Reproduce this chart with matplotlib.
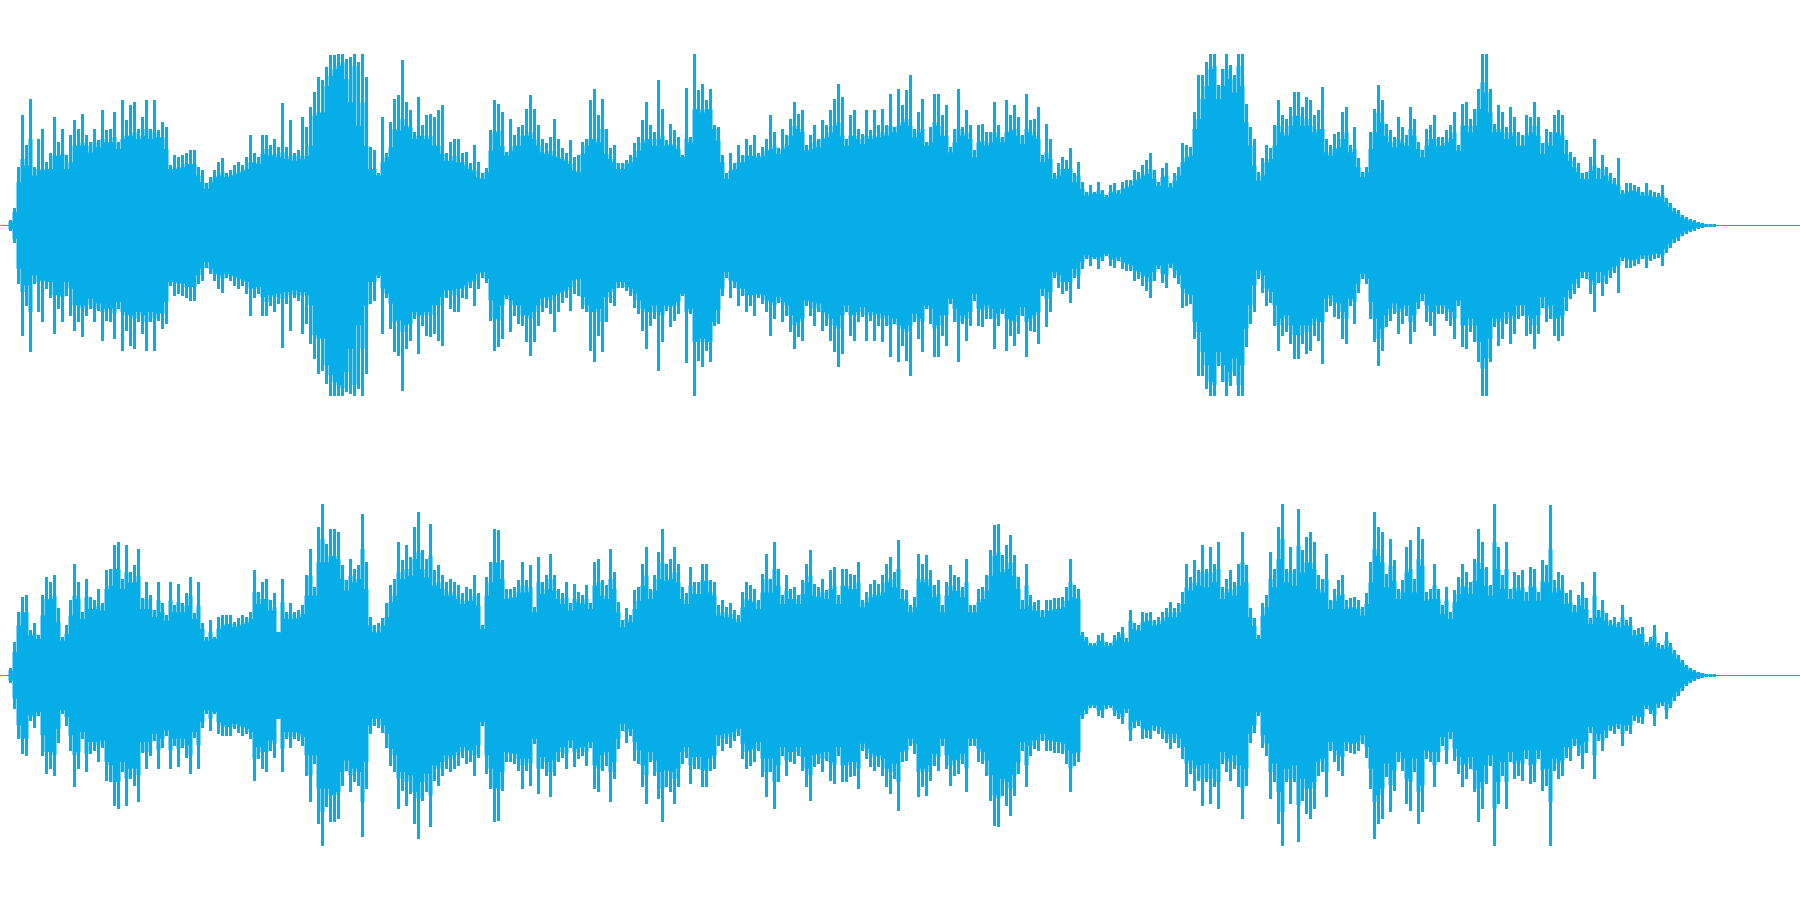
import matplotlib
matplotlib.use('Agg')
import matplotlib.pyplot as plt
import numpy as np

# Peak amplitude per 4 px column, full scale = 514
left_peaks = [
    0, 0, 16, 50, 175, 330, 240, 380, 175, 260, 290, 190, 215, 325, 250, 290, 210, 270, 315, 290,
    335, 270, 250, 290, 255, 345, 285, 290, 340, 250, 375, 315, 360, 370, 290, 325, 375, 290, 375, 285,
    310, 295, 180, 210, 205, 210, 215, 225, 225, 175, 165, 125, 145, 165, 190, 200, 155, 165, 180, 190,
    180, 205, 270, 215, 205, 270, 270, 240, 260, 235, 366, 235, 315, 215, 225, 325, 295, 355, 400, 445,
    435, 475, 510, 510, 514, 514, 500, 505, 514, 490, 514, 445, 235, 225, 155, 325, 215, 310, 380, 390,
    495, 370, 345, 280, 385, 300, 330, 335, 325, 345, 360, 215, 250, 260, 260, 215, 220, 185, 240, 190,
    155, 170, 285, 375, 365, 340, 220, 320, 270, 295, 300, 350, 390, 350, 300, 260, 245, 265, 320, 260,
    230, 215, 255, 205, 210, 250, 260, 375, 410, 330,
    380, 290, 230, 240, 185, 185, 195, 210, 245, 265, 315, 370, 300, 280, 435, 350, 255, 305, 285, 265,
    210, 412, 265, 514, 405, 425, 375, 410, 300, 295, 210, 155, 215, 185, 240, 210, 260, 240, 270, 215,
    235, 260, 330, 280, 230, 290, 270, 320, 370, 335, 345, 240, 270, 300, 260, 315, 300, 345, 380, 425,
    385, 260, 330, 345, 290, 275, 345, 285, 345, 300, 350, 300, 395, 295, 410, 360, 405, 450, 290, 340,
    380, 250, 295, 395, 395, 330, 360, 235, 290, 410, 295, 345, 300, 225, 300, 305, 280, 280, 370, 300,
    265, 375, 330, 360, 325, 270, 395, 315, 320, 355, 210, 305, 260, 155, 185, 205, 195, 230, 155, 190,
    130, 100, 120, 100, 130, 105, 90, 120, 125, 105, 130, 135, 135, 165, 160, 180, 195, 215, 165, 130,
    170, 185, 125, 155, 175, 245, 240, 235, 340, 450,
    450, 490, 514, 514, 420, 470, 514, 480, 450, 514, 514, 365, 295, 260, 160, 200, 240, 230, 300, 375,
    330, 320, 355, 400, 400, 355, 385, 375, 330, 345, 415, 260, 240, 275, 280, 340, 355, 240, 295, 200,
    160, 175, 280, 350, 420, 375, 305, 285, 265, 325, 295, 270, 355, 320, 250, 225, 290, 300, 330, 265,
    265, 285, 300, 340, 240, 365, 370, 320, 350, 410, 514, 514, 410, 305, 360, 340, 295, 355, 325, 280,
    270, 330, 325, 370, 325, 245, 290, 280, 330, 345, 330, 255, 220, 205, 185, 155, 160, 205, 260, 170,
    210, 175, 155, 140, 200, 105, 125, 125, 120, 115, 100, 125, 105, 100, 95, 120, 80, 65, 50, 45,
    30, 25, 18, 14, 10, 6, 4, 3, 3,
]
right_peaks = [
    0, 0, 20, 100, 190, 235, 240, 135, 155, 120, 240, 295, 280, 300, 200, 115, 150, 225, 335, 280,
    190, 290, 235, 225, 260, 215, 315, 320, 390, 400, 290, 390, 310, 330, 380, 230, 280, 240, 195, 280,
    215, 180, 280, 210, 275, 215, 245, 295, 185, 280, 155, 115, 165, 115, 175, 180, 180, 180, 160, 170,
    180, 175, 190, 315, 250, 280, 290, 225, 245, 130, 290, 190, 215, 190, 195, 210, 300, 380, 265, 445,
    514, 395, 440, 440, 430, 330, 285, 350, 320, 330, 485, 340, 175, 150, 155, 170, 215, 270, 290, 400,
    345, 390, 355, 445, 490, 375, 350, 455, 315, 330, 300, 280, 290, 280, 270, 245, 265, 260, 300, 245,
    150, 295, 340, 440, 435, 345, 260, 260, 265, 285, 340, 285, 330, 205, 355, 280, 300, 365, 300, 260,
    245, 280, 215, 275, 250, 240, 270, 215, 340, 350,
    285, 270, 380, 310, 220, 165, 200, 180, 255, 265, 335, 385, 260, 300, 370, 440, 335, 350, 385, 335,
    265, 245, 325, 280, 280, 335, 335, 285, 280, 210, 225, 205, 215, 195, 180, 250, 280, 270, 260, 225,
    305, 365, 290, 400, 320, 240, 300, 260, 265, 240, 285, 335, 375, 275, 265, 290, 255, 315, 325, 240,
    320, 320, 305, 300, 340, 225, 250, 275, 285, 275, 300, 335, 355, 310, 405, 260, 255, 210, 235, 365,
    335, 360, 315, 270, 285, 210, 280, 330, 300, 295, 265, 350, 210, 210, 260, 265, 300, 375, 450, 455,
    360, 390, 420, 360, 295, 225, 335, 240, 220, 225, 195, 225, 225, 230, 230, 235, 265, 350, 270, 260,
    130, 115, 95, 95, 120, 125, 100, 95, 120, 130, 145, 110, 195, 155, 150, 190, 185, 190, 165, 175,
    190, 200, 220, 200, 215, 250, 335, 295, 345, 315,
    390, 320, 385, 335, 400, 265, 290, 315, 280, 335, 430, 330, 200, 170, 120, 215, 240, 370, 320, 445,
    514, 320, 385, 320, 500, 375, 415, 430, 400, 300, 290, 365, 225, 260, 285, 300, 225, 230, 235, 225,
    205, 245, 340, 490, 445, 430, 305, 410, 345, 260, 285, 385, 405, 290, 445, 410, 250, 260, 335, 260,
    210, 265, 190, 255, 295, 335, 310, 280, 350, 440, 400, 325, 270, 514, 385, 300, 400, 260, 310, 300,
    315, 250, 325, 320, 250, 345, 330, 510, 285, 310, 300, 245, 255, 210, 240, 280, 230, 170, 310, 195,
    225, 185, 165, 175, 160, 210, 165, 175, 135, 140, 145, 100, 115, 150, 95, 90, 130, 95, 75, 60,
    45, 30, 20, 14, 10, 7, 4, 3, 3,
]

# Solid body of the wave per 4 px column
left_body = [
    0, 0, 12, 40, 130, 200, 180, 260, 150, 170, 165, 170, 170, 210, 210, 215, 170, 190, 240, 240,
    250, 240, 220, 250, 235, 260, 250, 250, 265, 230, 260, 270, 270, 280, 260, 270, 290, 260, 280, 265,
    265, 230, 170, 170, 175, 175, 185, 185, 185, 150, 130, 110, 130, 145, 150, 160, 145, 150, 155, 160,
    165, 170, 190, 190, 185, 215, 230, 210, 215, 205, 220, 200, 210, 195, 210, 200, 210, 240, 330, 340,
    340, 420, 450, 470, 480, 490, 440, 370, 480, 300, 370, 240, 170, 170, 150, 190, 205, 235, 290, 285,
    320, 300, 295, 260, 270, 270, 260, 270, 240, 240, 215, 195, 195, 210, 190, 190, 180, 170, 165, 145,
    140, 160, 225, 280, 285, 240, 210, 225, 240, 240, 270, 270, 280, 260, 240, 220, 215, 225, 210, 205,
    200, 195, 185, 165, 160, 215, 240, 260, 260, 250,
    290, 215, 200, 190, 170, 170, 185, 190, 205, 225, 250, 260, 260, 240, 260, 270, 240, 245, 240, 230,
    205, 260, 250, 350, 350, 340, 350, 350, 290, 255, 190, 140, 165, 170, 190, 190, 210, 210, 210, 205,
    210, 225, 230, 240, 215, 230, 240, 270, 300, 290, 280, 225, 230, 250, 235, 260, 265, 280, 300, 310,
    270, 240, 270, 270, 260, 245, 270, 260, 270, 265, 280, 270, 300, 280, 300, 310, 320, 300, 265, 280,
    290, 240, 250, 310, 300, 270, 270, 220, 250, 290, 270, 280, 260, 205, 250, 255, 240, 250, 280, 265,
    250, 280, 285, 290, 270, 245, 290, 280, 270, 260, 190, 220, 200, 140, 150, 170, 170, 170, 130, 150,
    110, 90, 100, 95, 105, 95, 85, 100, 105, 95, 110, 115, 120, 135, 140, 150, 155, 170, 140, 120,
    145, 150, 115, 135, 150, 190, 205, 210, 290, 320,
    380, 420, 470, 480, 380, 420, 470, 440, 400, 480, 420, 310, 240, 180, 135, 150, 190, 200, 240, 300,
    280, 270, 300, 330, 330, 300, 320, 300, 280, 290, 290, 220, 210, 230, 235, 260, 280, 220, 230, 175,
    145, 160, 230, 280, 340, 310, 270, 250, 235, 260, 250, 240, 290, 270, 230, 205, 240, 260, 260, 240,
    240, 250, 260, 280, 225, 300, 300, 280, 300, 350, 430, 400, 340, 280, 290, 280, 260, 280, 270, 240,
    240, 270, 280, 300, 270, 215, 250, 240, 280, 280, 270, 215, 195, 175, 160, 140, 140, 165, 180, 140,
    170, 150, 135, 125, 120, 95, 100, 105, 105, 100, 90, 100, 90, 85, 85, 90, 70, 55, 42, 35,
    24, 18, 14, 10, 7, 5, 3, 3, 3,
]
right_body = [
    0, 0, 15, 70, 150, 190, 190, 120, 125, 110, 180, 230, 230, 240, 160, 105, 125, 180, 240, 230,
    170, 235, 200, 200, 210, 195, 260, 270, 320, 320, 260, 310, 280, 280, 300, 200, 230, 200, 175, 225,
    190, 165, 225, 190, 220, 190, 210, 240, 170, 210, 140, 105, 130, 110, 140, 150, 155, 155, 145, 150,
    155, 160, 170, 250, 215, 230, 230, 195, 205, 130, 220, 170, 185, 170, 175, 185, 240, 300, 240, 340,
    410, 340, 360, 360, 350, 290, 255, 300, 280, 290, 380, 260, 150, 130, 130, 150, 175, 220, 240, 310,
    290, 320, 300, 350, 370, 320, 295, 360, 270, 280, 260, 240, 250, 240, 230, 215, 225, 225, 240, 210,
    140, 240, 280, 340, 340, 290, 230, 235, 235, 250, 270, 250, 265, 190, 280, 245, 260, 290, 255, 230,
    215, 235, 195, 230, 220, 215, 230, 200, 270, 280,
    240, 230, 290, 260, 190, 145, 170, 160, 200, 225, 270, 300, 230, 255, 290, 340, 285, 290, 310, 280,
    230, 215, 270, 245, 245, 285, 285, 250, 240, 180, 190, 175, 185, 170, 160, 205, 230, 225, 220, 200,
    250, 290, 250, 320, 270, 215, 255, 230, 230, 215, 245, 280, 300, 240, 235, 250, 230, 260, 270, 215,
    270, 270, 260, 260, 280, 205, 220, 235, 245, 240, 250, 280, 290, 265, 320, 230, 225, 190, 205, 290,
    280, 290, 270, 235, 245, 190, 240, 270, 255, 255, 235, 280, 190, 190, 220, 230, 255, 300, 360, 370,
    310, 320, 340, 300, 260, 200, 270, 210, 195, 195, 175, 195, 195, 200, 200, 205, 225, 280, 235, 230,
    120, 105, 90, 90, 105, 105, 90, 90, 105, 115, 125, 100, 165, 140, 135, 160, 165, 165, 150, 155,
    165, 175, 190, 175, 190, 215, 265, 255, 280, 270,
    310, 265, 310, 280, 320, 230, 250, 260, 240, 270, 340, 280, 175, 150, 110, 180, 205, 290, 265, 350,
    410, 280, 310, 270, 390, 310, 340, 340, 320, 260, 250, 290, 200, 225, 240, 245, 200, 205, 205, 200,
    180, 215, 280, 380, 360, 340, 265, 330, 285, 230, 250, 310, 320, 250, 350, 330, 225, 230, 270, 230,
    185, 225, 170, 220, 245, 270, 265, 245, 285, 340, 320, 270, 240, 400, 320, 260, 320, 230, 265, 255,
    265, 225, 270, 265, 225, 285, 280, 380, 250, 265, 255, 215, 220, 190, 210, 235, 200, 155, 240, 175,
    195, 165, 150, 155, 145, 175, 150, 150, 120, 125, 125, 90, 105, 120, 85, 80, 105, 85, 65, 50,
    38, 26, 17, 12, 8, 6, 3, 3, 3,
]

wave_color = '#06ADE6'
full_scale = 514

fig = plt.figure(figsize=(18, 9), dpi=100)
ax_left = fig.add_axes([0, 504 / 900, 1, 342 / 900])
ax_right = fig.add_axes([0, 54 / 900, 1, 342 / 900])

for ax, peaks, body in [(ax_left, left_peaks, left_body), (ax_right, right_peaks, right_body)]:
    peaks = np.array(peaks)
    body = np.array(body)
    x = np.arange(len(peaks)) * 4 + 2

    ax.fill_between(x, -body, body, step='mid', color=wave_color, linewidth=0)
    ax.vlines(x, -peaks, peaks, color=wave_color, linewidth=1.0, antialiased=False)
    ax.axhline(0, color=wave_color, linewidth=0.8)

    ax.set_xlim(0, 1800)
    ax.set_ylim(-full_scale, full_scale)
    ax.axis('off')

fig.savefig('out.png', dpi=100, facecolor='white')
